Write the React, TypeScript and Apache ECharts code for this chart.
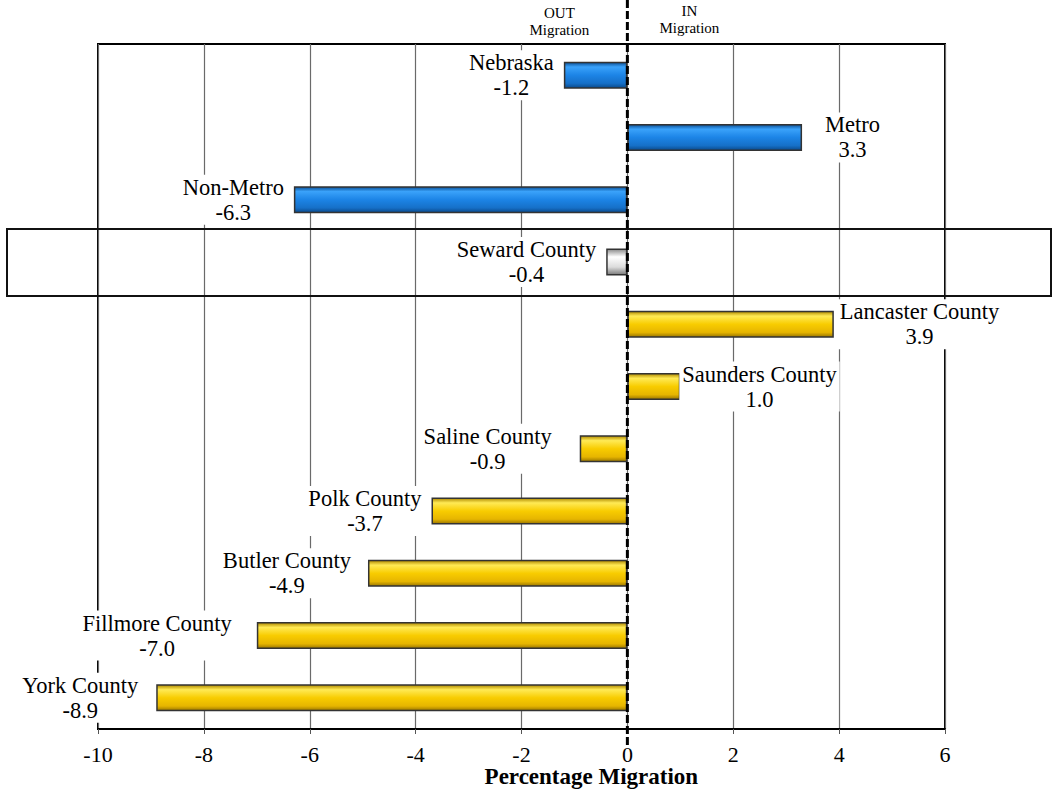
import React, { useEffect, useRef } from "react";
import * as echarts from "echarts";

const categories = [
  "Nebraska",
  "Metro",
  "Non-Metro",
  "Seward County",
  "Lancaster County",
  "Saunders County",
  "Saline County",
  "Polk County",
  "Butler County",
  "Fillmore County",
  "York County",
];
const values = [-1.2, 3.3, -6.3, -0.4, 3.9, 1.0, -0.9, -3.7, -4.9, -7.0, -8.9];
const groups = ["state", "state", "state", "focus", "county", "county", "county", "county", "county", "county", "county"];
const xTicks = { min: -10, max: 6, interval: 2 };
const highlighted = "Seward County";
const axisTitle = "Percentage Migration";
// hand-placed label nudges (px), as in the original chart
const labelNudge = [0, 13, 0, 0, -4, -8, -18, 0, -7, -15, -8];

const FONT = "Liberation Serif";

const grad = (stops: [number, string][]) =>
  new echarts.graphic.LinearGradient(0, 0, 0, 1, stops.map(([offset, color]) => ({ offset, color })));

const fills: Record<string, any> = {
  state: grad([
    [0, "#0a4f96"],
    [0.18, "#3aa2fa"],
    [0.5, "#1c84e6"],
    [0.82, "#1670c8"],
    [1, "#0a4a8c"],
  ]),
  county: grad([
    [0, "#b08a00"],
    [0.18, "#ffea55"],
    [0.5, "#f8cc00"],
    [0.82, "#e6b500"],
    [1, "#9a7600"],
  ]),
  focus: grad([
    [0, "#8a8a8a"],
    [0.3, "#ffffff"],
    [0.7, "#dcdcdc"],
    [1, "#7a7a7a"],
  ]),
};

export default function App() {
  const ref = useRef<HTMLDivElement>(null);
  useEffect(() => {
    if (!ref.current) return;
    const chart = echarts.init(ref.current, undefined, { renderer: "svg" });
    const data = values.map((v, i) => ({
      value: v,
      name: categories[i],
      itemStyle: { color: fills[groups[i]] },
      label: { position: v < 0 ? "left" : "right", offset: [labelNudge[i], 0] },
    }));
    chart.setOption({
      animation: false,
      textStyle: { fontFamily: FONT },
      grid: {
        left: 98,
        right: 108,
        top: 44,
        bottom: 63,
        outerBoundsMode: "none",
        containLabel: false,
        show: true,
        borderColor: "#000",
        borderWidth: 2,
        backgroundColor: "transparent",
      },
      xAxis: {
        type: "value",
        min: xTicks.min,
        max: xTicks.max,
        interval: xTicks.interval,
        axisLine: { show: true, lineStyle: { color: "#000", width: 2 } },
        axisTick: { show: true, length: 5, lineStyle: { color: "#555" } },
        axisLabel: { fontFamily: FONT, fontSize: 22, color: "#000", margin: 14 },
        splitLine: { show: true, lineStyle: { color: "#6a6a6a", width: 1.2 } },
      },
      yAxis: {
        type: "category",
        data: categories,
        inverse: true,
        axisLine: { show: false },
        axisTick: { show: false },
        axisLabel: { show: false },
        splitLine: { show: false },
      },
      series: [
        {
          type: "bar",
          data,
          barWidth: 27,
          itemStyle: { borderColor: "#333", borderWidth: 1.5 },
          label: {
            show: true,
            distance: 7,
            backgroundColor: "#fff",
            padding: [0, 3],
            formatter: (p: any) => `{n|${p.name}}\n{v|${Number(p.value).toFixed(1)}}`,
            rich: {
              n: { fontFamily: FONT, fontSize: 22.5, lineHeight: 25, align: "center", color: "#000" },
              v: { fontFamily: FONT, fontSize: 22.5, lineHeight: 25, align: "center", color: "#000" },
            },
          },
        },
      ],
    });

    const x0 = chart.convertToPixel({ xAxisIndex: 0 }, 0) as number;
    const yHi = chart.convertToPixel({ yAxisIndex: 0 }, highlighted) as number;
    chart.setOption({
      graphic: [
        {
          type: "rect",
          z: 50,
          shape: { x: 7, y: yHi - 33, width: 1044, height: 67 },
          style: { fill: "none", stroke: "#111", lineWidth: 2 },
        },
        {
          type: "line",
          z: 100,
          shape: { x1: x0, y1: 0, x2: x0, y2: 745 },
          style: { stroke: "#000", lineWidth: 3, lineDash: [8, 3] },
        },
        {
          type: "text",
          z: 100,
          x: x0 - 36,
          y: 776,
          style: {
            text: axisTitle,
            fontFamily: FONT,
            fontSize: 23,
            fontWeight: "bold",
            fill: "#000",
            align: "center",
            verticalAlign: "middle",
          },
        },
        {
          type: "text",
          z: 100,
          x: x0 - 68,
          y: 21,
          style: {
            text: "OUT\nMigration",
            fontFamily: FONT,
            fontSize: 15,
            lineHeight: 17,
            fill: "#000",
            align: "center",
            verticalAlign: "middle",
          },
        },
        {
          type: "text",
          z: 100,
          x: x0 + 62,
          y: 19,
          style: {
            text: "IN\nMigration",
            fontFamily: FONT,
            fontSize: 15,
            lineHeight: 17,
            fill: "#000",
            align: "center",
            verticalAlign: "middle",
          },
        },
      ],
    });
    return () => chart.dispose();
  }, []);
  return (
    <div
      ref={ref}
      style={{ position: "fixed", left: 0, top: 0, width: 1053, height: 792, background: "#fff" }}
    />
  );
}
